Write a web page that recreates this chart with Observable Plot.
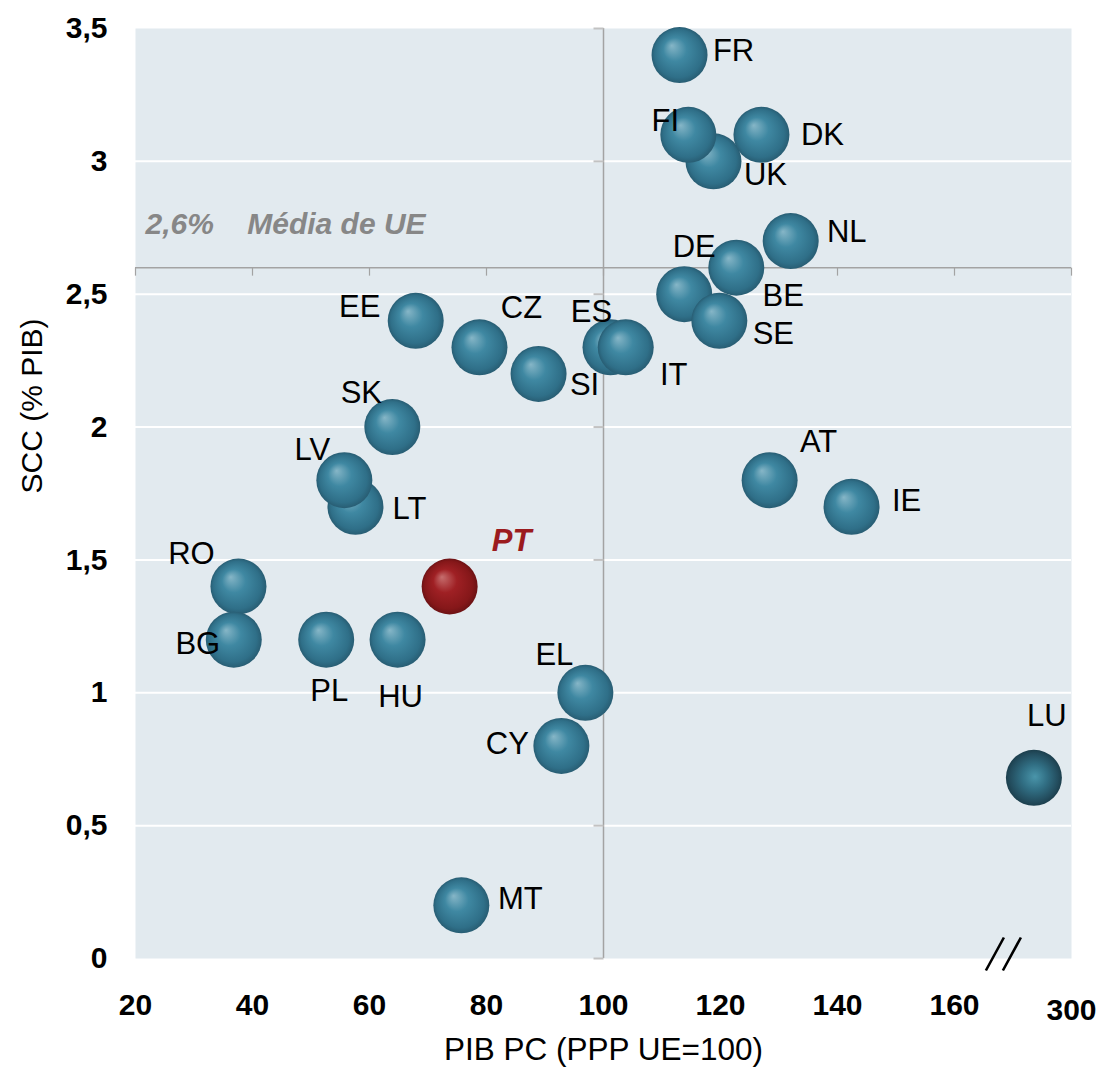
<!DOCTYPE html>
<html>
<head>
<meta charset="utf-8">
<script src="https://cdn.jsdelivr.net/npm/d3@7"></script>
<script src="https://cdn.jsdelivr.net/npm/@observablehq/plot@0.6"></script>
<style>
  body { margin: 0; background: #ffffff; }
  #chart svg { display: block; }
</style>
</head>
<body>
<div id="chart"></div>
<script>
// ---- Data ----
const countries = ["FR","UK","FI","DK","NL","DE","BE","SE","ES","IT","SI","CZ","EE","SK","LT","LV","RO","BG","PL","HU","EL","CY","MT","AT","IE","PT","LU"];
const gdpPc     = [113.0,118.8,114.5,127.0,132.0,113.8,122.7,119.8,101.2,103.8,88.9,78.8,67.9,63.9,57.6,55.7,37.6,36.8,52.6,64.8,96.9,92.8,75.7,128.4,142.4,73.7,255];
const sccPib    = [3.40,3.00,3.10,3.10,2.70,2.50,2.60,2.40,2.30,2.30,2.20,2.30,2.40,2.00,1.70,1.80,1.40,1.20,1.20,1.20,1.00,0.80,0.20,1.80,1.70,1.40,0.68];
const euAverage = 2.6;
const euGdp = 100;
const xTickValues = [20,40,60,80,100,120,140,160];
const xTickBreakValue = 300;
const yTickValues = [0,0.5,1,1.5,2,2.5,3,3.5];
const avgLabel = "2,6%\u00a0\u00a0\u00a0\u00a0Média de UE";
const xTitle = "PIB PC (PPP UE=100)";
const yTitle = "SCC (% PIB)";

// ---- Layout / style (label placement relative to each ball, px) ----
const labelOffsets = {
  FR:[54,-4], FI:[-23,-14], DK:[61,0], UK:[52,14], NL:[56,-9], DE:[10,-47],
  BE:[47,28], SE:[54,13], ES:[-19,-35], IT:[48,28], SI:[46,11], CZ:[42,-39],
  EE:[-56,-14], SK:[-31,-34], LV:[-32,-30], LT:[54,2], RO:[-47,-32], BG:[-36,4],
  PL:[3,51], HU:[3,57], EL:[-31,-38], CY:[-54,-2], MT:[59,-6], AT:[49,-38],
  IE:[55,-6], LU:[13,-62], PT:[62,-45]
};

// broken x axis: values above 160 compressed so that 300 sits at 180
const breakStart = 160, breakRatio = 7;
const toDisplay = v => v <= breakStart ? v : breakStart + (v - breakStart) / breakRatio;
const axisBreakAt = 168.1;

const data = countries.map((c, i) => ({code: c, x: toDisplay(gdpPc[i]), y: sccPib[i]}));
const comma = d => String(d).replace(".", ",");

const font = "Liberation Sans, Arial, sans-serif";

// custom symbols
const tickLeft = {draw(ctx) { ctx.moveTo(0, 0); ctx.lineTo(-10, 0); }};
const tickDown = {draw(ctx) { ctx.moveTo(0, 0); ctx.lineTo(0, 8); }};
const breakSym = {draw(ctx) {
  ctx.moveTo(-16, 12); ctx.lineTo(2, -21);
  ctx.moveTo(1, 12); ctx.lineTo(19, -21);
}};

const teal = data.filter(d => d.code !== "PT" && d.code !== "LU");
const red = data.filter(d => d.code === "PT");
const lux = data.filter(d => d.code === "LU");

const labelMarks = data.map(d => {
  const [dx, dy] = labelOffsets[d.code];
  const isPT = d.code === "PT";
  return Plot.text([d], {
    x: "x", y: "y", text: "code", dx, dy,
    fontSize: 31,
    fill: isPT ? "#9b1b1e" : "#000000",
    fontWeight: isPT ? "bold" : "normal",
    fontStyle: isPT ? "italic" : "normal"
  });
});

const plot = Plot.plot({
  width: 1101,
  height: 1077,
  marginLeft: 135,
  marginRight: 30,
  marginTop: 28,
  marginBottom: 119,
  style: {fontFamily: font, background: "#ffffff", overflow: "visible"},
  x: {domain: [20, 180], axis: null},
  y: {domain: [0, 3.5], axis: null},
  marks: [
    Plot.frame({fill: "#e2eaef", stroke: "none"}),
    Plot.ruleY(yTickValues.filter(v => v > 0 && v < 3.5), {stroke: "#ffffff", strokeWidth: 2}),
    Plot.ruleX([euGdp], {stroke: "#a3a3a3", strokeWidth: 1.5}),
    Plot.ruleY([euAverage], {stroke: "#a3a3a3", strokeWidth: 1.5}),
    Plot.dot(yTickValues, {x: euGdp, y: d => d, symbol: tickLeft, fill: "none", stroke: "#c2c2c2", strokeWidth: 2}),
    Plot.dot([...xTickValues, toDisplay(xTickBreakValue)], {x: d => d, y: euAverage, symbol: tickDown, fill: "none", stroke: "#a3a3a3", strokeWidth: 1.2}),
    Plot.text([avgLabel], {x: 20, y: euAverage, text: d => d, textAnchor: "start", dx: 10, dy: -43,
      fontSize: 30, fontWeight: "bold", fontStyle: "italic", fill: "#878787"}),
    // balls
    Plot.dot(teal, {x: "x", y: "y", r: 28, fill: "url(#ballTeal)", stroke: "none"}),
    Plot.dot(red, {x: "x", y: "y", r: 28, fill: "url(#ballRed)", stroke: "none"}),
    Plot.dot(lux, {x: "x", y: "y", r: 28, fill: "url(#ballLux)", stroke: "none"}),
    ...labelMarks,
    // axis break marker
    Plot.dot([axisBreakAt], {x: d => d, y: 0, symbol: breakSym, fill: "none", stroke: "#000000", strokeWidth: 2.6}),
    // tick labels
    Plot.text(yTickValues, {x: 20, y: d => d, text: d => comma(d), textAnchor: "end", dx: -28,
      fontSize: 30, fontWeight: "bold", fill: "#000000"}),
    Plot.text(xTickValues, {x: d => d, y: 0, text: d => String(d), dy: 47,
      fontSize: 30, fontWeight: "bold", fill: "#000000"}),
    Plot.text([xTickBreakValue], {x: d => toDisplay(d), y: 0, text: d => String(d), dy: 52,
      fontSize: 30, fontWeight: "bold", fill: "#000000"}),
    // axis titles
    Plot.text([xTitle], {frameAnchor: "bottom", text: d => d, dy: 101, fontSize: 31.5, fill: "#000000"}),
    Plot.text([yTitle], {frameAnchor: "left", text: d => d, rotate: -90, dx: -103, fontSize: 30, fill: "#000000"})
  ]
});

// gradients for the 3D balls
const svg = d3.select(plot.tagName.toLowerCase() === "svg" ? plot : plot.querySelector("svg"));
const defs = svg.insert("defs", ":first-child");
function addGrad(id, fx, fy, stops) {
  const g = defs.append("radialGradient").attr("id", id)
    .attr("cx", 0.5).attr("cy", 0.5).attr("r", 0.5).attr("fx", fx).attr("fy", fy);
  stops.forEach(([o, c]) => g.append("stop").attr("offset", o).attr("stop-color", c));
}
addGrad("ballTeal", 0.36, 0.33, [[0, "#86b6c7"], [0.42, "#3f88a2"], [0.85, "#2f6f88"], [1, "#285d73"]]);
addGrad("ballRed", 0.36, 0.33, [[0, "#c66e6e"], [0.42, "#9f2024"], [0.85, "#851719"], [1, "#6c1214"]]);
addGrad("ballLux", 0.52, 0.48, [[0, "#4a95aa"], [0.45, "#316f84"], [0.85, "#234d5e"], [1, "#1c3f4d"]]);

document.getElementById("chart").appendChild(plot);
</script>
</body>
</html>
